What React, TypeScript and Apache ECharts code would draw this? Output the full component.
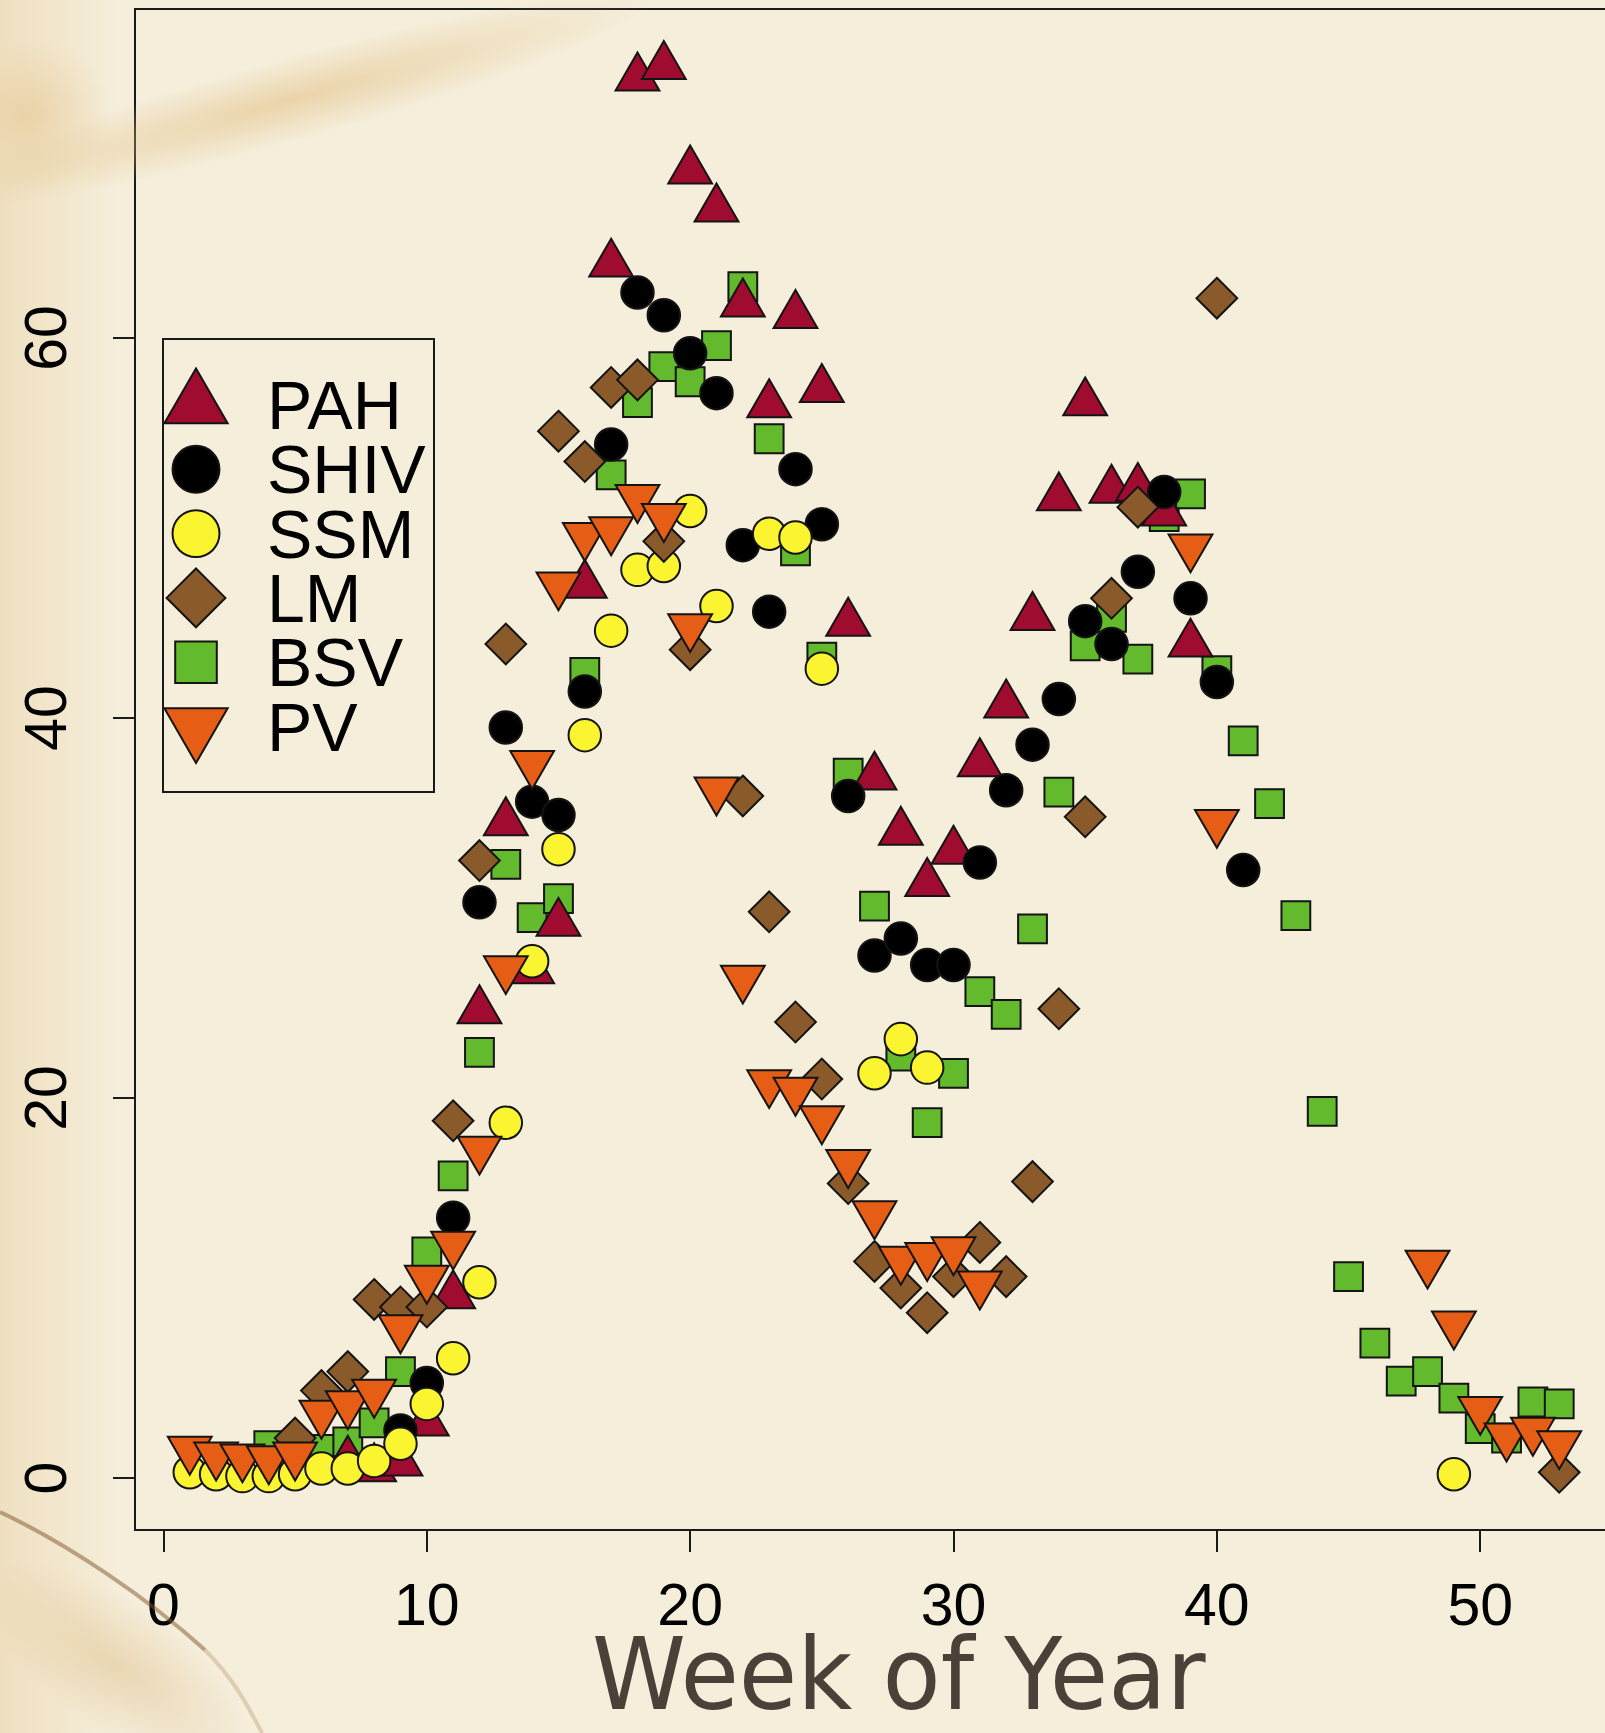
import React, { useEffect, useRef } from "react";
import * as echarts from "echarts";

// ---------- data (week of year, value) ----------
const WEEK_TICKS = [0, 10, 20, 30, 40, 50];
const VALUE_TICKS = [0, 20, 40, 60];
const LEGEND_ORDER = ["PAH", "SHIV", "SSM", "LM", "BSV", "PV"];
const X_TITLE = "Week of Year";

const PAH: [number, number][] = [
  [7, 0.9], [8, 0.5], [9, 0.8], [10, 2.9], [11, 9.6], [12, 24.6], [13, 34.5], [14, 26.7],
  [15, 29.2], [16, 47.0], [17, 63.9], [18, 73.7], [19, 74.3], [20, 68.8], [21, 66.8],
  [22, 61.8], [23, 56.5], [24, 61.2], [25, 57.3], [26, 45.0], [27, 36.9], [28, 34.0],
  [29, 31.3], [30, 33.0], [31, 37.6], [32, 40.7], [33, 45.3], [34, 51.6], [35, 56.6],
  [36, 52.0], [37, 52.1], [38, 50.8], [39, 43.9],
];
const SHIV: [number, number][] = [
  [9, 2.5], [10, 5.0], [11, 13.7], [12, 30.3], [13, 39.5], [14, 35.6], [15, 34.9],
  [16, 41.4], [17, 54.4], [18, 62.4], [19, 61.2], [20, 59.2], [21, 57.1], [22, 49.1],
  [23, 45.6], [24, 53.1], [25, 50.2], [26, 35.9], [27, 27.5], [28, 28.4], [29, 27.0],
  [30, 27.0], [31, 32.4], [32, 36.2], [33, 38.6], [34, 41.0], [35, 45.1], [36, 43.9],
  [37, 47.7], [38, 51.9], [39, 46.3], [40, 41.9], [41, 32.0],
];
const SSM: [number, number][] = [
  [1, 0.3], [2, 0.2], [3, 0.1], [4, 0.1], [5, 0.2], [6, 0.5], [7, 0.5], [8, 0.9],
  [9, 1.8], [10, 3.9], [11, 6.3], [12, 10.3], [13, 18.7], [14, 27.2], [15, 33.1],
  [16, 39.1], [17, 44.6], [18, 47.8], [19, 48.0], [20, 50.9], [21, 45.9], [23, 49.7],
  [24, 49.5], [25, 42.6], [27, 21.3], [28, 23.1], [29, 21.6], [49, 0.2],
];
const LM: [number, number][] = [
  [5, 2.1], [6, 4.6], [7, 5.6], [8, 9.4], [9, 9.0], [10, 9.0], [11, 18.8], [12, 32.5],
  [13, 43.9], [15, 55.1], [16, 53.5], [17, 57.4], [18, 57.8], [19, 49.3], [20, 43.6],
  [22, 35.9], [23, 29.8], [24, 24.0], [25, 21.0], [26, 15.5], [27, 11.4], [28, 10.0],
  [29, 8.7], [30, 10.6], [31, 12.4], [32, 10.6], [33, 15.6], [34, 24.7], [35, 34.8],
  [36, 46.3], [37, 51.1], [40, 62.1], [53, 0.3],
];
const BSV: [number, number][] = [
  [4, 1.7], [6, 1.5], [7, 1.9], [8, 2.9], [9, 5.6], [10, 11.9], [11, 15.9], [12, 22.4],
  [13, 32.3], [14, 29.5], [15, 30.5], [16, 42.4], [17, 52.8], [18, 56.6], [19, 58.5],
  [20, 57.7], [21, 59.6], [22, 62.7], [23, 54.7], [24, 48.8], [25, 43.2], [26, 37.1],
  [27, 30.1], [28, 22.2], [29, 18.7], [30, 21.3], [31, 25.6], [32, 24.4], [33, 28.9],
  [34, 36.1], [35, 43.8], [36, 45.3], [37, 43.1], [38, 50.6], [39, 51.8], [40, 42.5],
  [41, 38.8], [42, 35.5], [43, 29.6], [44, 19.3], [45, 10.6], [46, 7.1], [47, 5.1],
  [48, 5.6], [49, 4.2], [50, 2.6], [51, 2.1], [52, 4.0], [53, 3.9],
];
const PV: [number, number][] = [
  [1, 1.5], [2, 1.2], [3, 1.1], [4, 1.0], [5, 1.2], [6, 3.4], [7, 3.9], [8, 4.5],
  [9, 7.9], [10, 10.5], [11, 12.3], [12, 17.3], [13, 26.8], [14, 37.6], [15, 47.0],
  [16, 49.6], [17, 49.9], [18, 51.6], [19, 50.6], [20, 44.8], [21, 36.2], [22, 26.3],
  [23, 20.8], [24, 20.4], [25, 18.9], [26, 16.6], [27, 13.9], [28, 11.5], [29, 11.7],
  [30, 12.0], [31, 10.2], [39, 49.0], [40, 34.5], [48, 11.3], [49, 8.1], [50, 3.6],
  [51, 2.2], [52, 2.5], [53, 1.8],
];

// ---------- symbols: all drawn in a common 54x54 frame centred on the point ----------
const FRAME = 54;
const framed = (d: string) => `path://M0 0M${FRAME} ${FRAME}${d}`;
const SYM_TRI_UP = framed("M27 1.73L48.89 39.64L5.11 39.64Z");
const SYM_TRI_DOWN = framed("M27 52.27L48.89 14.36L5.11 14.36Z");
const SYM_CIRCLE = framed("M10.75 27A16.25 16.25 0 1 0 43.25 27A16.25 16.25 0 1 0 10.75 27Z");
const SYM_SQUARE = framed("M12.6 12.6L41.4 12.6L41.4 41.4L12.6 41.4Z");
const SYM_DIAMOND = framed("M27 6.64L47.36 27L27 47.36L6.64 27Z");

const SERIES_DEF = [
  { name: "BSV", data: BSV, symbol: SYM_SQUARE, color: "#62BA2C" },
  { name: "PAH", data: PAH, symbol: SYM_TRI_UP, color: "#A00B30" },
  { name: "SHIV", data: SHIV, symbol: SYM_CIRCLE, color: "#000000" },
  { name: "SSM", data: SSM, symbol: SYM_CIRCLE, color: "#FBF531" },
  { name: "LM", data: LM, symbol: SYM_DIAMOND, color: "#8A5A2B" },
  { name: "PV", data: PV, symbol: SYM_TRI_DOWN, color: "#E65D16" },
];

const PAGE_W = 1605;
const PAGE_H = 1733;
const CHART_W = 1640; // wider than the page: the plot box runs past the right edge

export default function App() {
  const ref = useRef<HTMLDivElement>(null);

  useEffect(() => {
    if (!ref.current) return;
    const chart = echarts.init(ref.current, undefined, { renderer: "svg" });

    const series = SERIES_DEF.map((s, i) => ({
      type: "scatter",
      name: s.name,
      data: s.data,
      symbol: s.symbol,
      symbolSize: FRAME,
      z: 3 + i,
      itemStyle: { color: s.color, borderColor: "#141414", borderWidth: 2, opacity: 1 },
      emphasis: { disabled: true },
    }));

    const tan = (a: number) => `rgba(226,190,130,${a})`;

    const option: any = {
      animation: false,
      backgroundColor: "#F5EEDB",
      grid: {
        left: 135,
        top: 9,
        width: 1479,
        height: 1521,
        show: true,
        borderColor: "#1a1a1a",
        borderWidth: 2,
        backgroundColor: "transparent",
        containLabel: false,
      },
      xAxis: {
        type: "value",
        min: -1.08,
        max: 55.08,
        splitLine: { show: false },
        axisLine: { show: false, onZero: false },
        axisTick: {
          show: true,
          customValues: WEEK_TICKS,
          length: 22,
          inside: false,
          lineStyle: { color: "#1a1a1a", width: 2 },
        },
        axisLabel: {
          customValues: WEEK_TICKS,
          fontFamily: "Liberation Sans, Arial, sans-serif",
          fontSize: 59,
          lineHeight: 59,
          color: "#000",
          margin: 45,
        },
      },
      yAxis: {
        type: "value",
        min: -2.737,
        max: 77.32,
        splitLine: { show: false },
        axisLine: { show: false, onZero: false },
        axisTick: {
          show: true,
          customValues: VALUE_TICKS,
          length: 22,
          inside: false,
          lineStyle: { color: "#1a1a1a", width: 2 },
        },
        axisLabel: {
          customValues: VALUE_TICKS,
          rotate: 90,
          fontFamily: "Liberation Sans, Arial, sans-serif",
          fontSize: 59,
          lineHeight: 59,
          color: "#000",
          margin: 60,
        },
      },
      legend: {
        data: LEGEND_ORDER,
        orient: "vertical",
        left: 156,
        top: 365,
        padding: 0,
        itemWidth: 78,
        itemHeight: 78,
        itemGap: -15.7,
        selectedMode: false,
        textStyle: {
          fontFamily: "Liberation Sans, Arial, sans-serif",
          fontSize: 68,
          lineHeight: 62,
          color: "#000",
          padding: [0, 0, 0, 27],
        },
      },
      graphic: [
        {
          type: "rect",
          z: 0,
          silent: true,
          shape: { x: 0, y: 0, width: 120, height: 1733 },
          style: {
            fill: new echarts.graphic.LinearGradient(0, 0, 1, 0, [
              { offset: 0, color: tan(0.3) },
              { offset: 1, color: tan(0) },
            ]),
          },
        },
        {
          type: "ellipse",
          z: 0,
          silent: true,
          x: 290,
          y: 100,
          rotation: 0.27,
          shape: { cx: 0, cy: 0, rx: 380, ry: 42 },
          style: {
            fill: new echarts.graphic.RadialGradient(0.5, 0.5, 0.5, [
              { offset: 0, color: tan(0.55) },
              { offset: 1, color: tan(0) },
            ]),
          },
        },
        {
          type: "ellipse",
          z: 0,
          silent: true,
          x: 30,
          y: 115,
          rotation: 0.3,
          shape: { cx: 0, cy: 0, rx: 80, ry: 75 },
          style: {
            fill: new echarts.graphic.RadialGradient(0.5, 0.5, 0.5, [
              { offset: 0, color: tan(0.45) },
              { offset: 1, color: tan(0) },
            ]),
          },
        },
        {
          type: "ellipse",
          z: 0,
          silent: true,
          x: 115,
          y: 1665,
          rotation: -0.6,
          shape: { cx: 0, cy: 0, rx: 160, ry: 65 },
          style: {
            fill: new echarts.graphic.RadialGradient(0.5, 0.5, 0.5, [
              { offset: 0, color: "rgba(220,185,130,0.45)" },
              { offset: 1, color: "rgba(220,185,130,0)" },
            ]),
          },
        },
        {
          type: "bezierCurve",
          z: 1,
          silent: true,
          shape: { x1: 0, y1: 1512, cpx1: 70, cpy1: 1545, cpx2: 150, cpy2: 1600, x2: 205, y2: 1650 },
          style: { stroke: "rgba(125,85,45,0.5)", lineWidth: 4, fill: "none" },
        },
        {
          type: "bezierCurve",
          z: 1,
          silent: true,
          shape: { x1: 205, y1: 1650, cpx1: 235, cpy1: 1680, cpx2: 250, cpy2: 1710, x2: 262, y2: 1733 },
          style: { stroke: "rgba(170,130,80,0.3)", lineWidth: 4, fill: "none" },
        },
        {
          type: "rect",
          z: 10,
          silent: true,
          shape: { x: 163, y: 339, width: 271, height: 453 },
          style: { fill: "none", stroke: "#1a1a1a", lineWidth: 2 },
        },
        {
          type: "text",
          z: 10,
          silent: true,
          x: 592,
          y: 1675,
          scaleX: 0.96,
          style: {
            text: X_TITLE,
            x: 0,
            y: 0,
            align: "left",
            verticalAlign: "middle",
            fontFamily: "DejaVu Sans",
            fontSize: 99,
            fill: "#4A4139",
          },
        },
      ],
      series,
    };

    chart.setOption(option);
    return () => chart.dispose();
  }, []);

  return (
    <div
      style={{
        position: "absolute",
        left: 0,
        top: 0,
        width: PAGE_W,
        height: PAGE_H,
        overflow: "hidden",
      }}
    >
      <div ref={ref} style={{ width: CHART_W, height: PAGE_H }} />
    </div>
  );
}
